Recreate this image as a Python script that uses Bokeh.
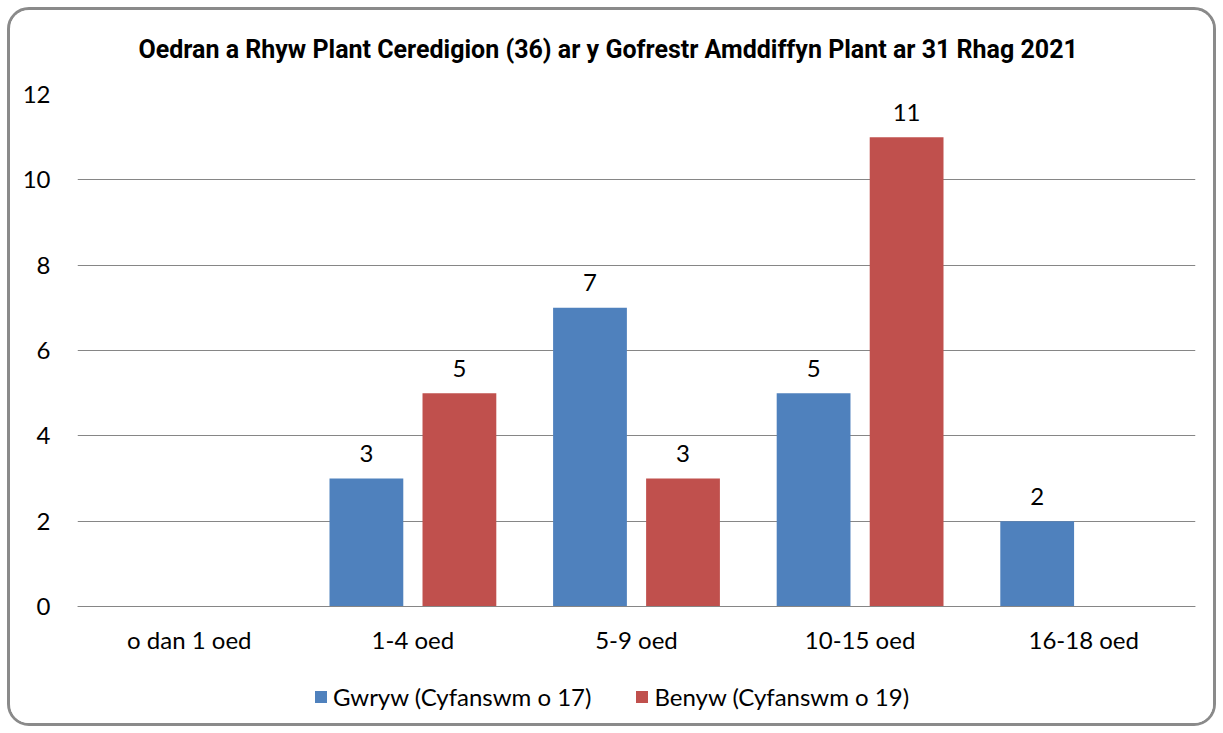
from bokeh.plotting import figure
from bokeh.models import FactorRange, Range1d, ColumnDataSource, Legend, LegendItem, FixedTicker, Title
from bokeh.transform import dodge
from bokeh.embed import file_html
from bokeh.resources import INLINE
from bokeh.core.properties import value

categories = ["o dan 1 oed", "1-4 oed", "5-9 oed", "10-15 oed", "16-18 oed"]
gwryw = [0, 3, 7, 5, 2]
benyw = [0, 5, 3, 11, 0]
series_names = ["Gwryw (Cyfanswm o 17)", "Benyw (Cyfanswm o 19)"]
y_ticks = [0, 2, 4, 6, 8, 10, 12]
title_text = "Oedran a Rhyw Plant Ceredigion (36) ar y Gofrestr Amddiffyn Plant ar 31 Rhag 2021"

BLUE = "#4F81BD"
RED = "#C0504D"
GRID = "#868686"
FONT = "Lato"
FS = "24px"

src = ColumnDataSource(dict(
    cat=categories, g=gwryw, b=benyw,
    gl=[str(v) if v > 0 else "" for v in gwryw],
    bl=[str(v) if v > 0 else "" for v in benyw],
))

# frame reaches down to the legend; value axis shows 0..12 only
p = figure(
    x_range=FactorRange(*categories),
    y_range=Range1d(-2.672, 12),
    frame_width=1118, frame_height=626,
    min_border_left=67, min_border_right=18, min_border_top=84, min_border_bottom=3,
    output_backend="svg", toolbar_location=None,
    background_fill_color="white", border_fill_color="white",
    outline_line_color=None,
    styles={"border": "3px solid #8a8a8a", "border-radius": "22px",
            "margin": "7px", "overflow": "hidden"},
)

p.add_layout(Title(text=" ", text_font_size="1px", standoff=5), "above")
p.add_layout(Title(text=title_text, text_font="Roboto", text_font_size="25px",
                   text_font_style="bold", align="left", text_color="black",
                   offset=61, standoff=45), "above")

r1 = p.vbar(x=dodge("cat", -0.208, range=p.x_range), top="g", width=0.33, source=src,
            fill_color=BLUE, line_color=None)
r2 = p.vbar(x=dodge("cat", 0.208, range=p.x_range), top="b", width=0.33, source=src,
            fill_color=RED, line_color=None)

p.text(x=dodge("cat", -0.208, range=p.x_range), y="g", text="gl", source=src,
       text_align="center", text_baseline="middle", y_offset=-25,
       text_font=value(FONT), text_font_size=FS, text_color="black")
p.text(x=dodge("cat", 0.208, range=p.x_range), y="b", text="bl", source=src,
       text_align="center", text_baseline="middle", y_offset=-25,
       text_font=value(FONT), text_font_size=FS, text_color="black")

p.xgrid.grid_line_color = None
p.ygrid.grid_line_color = GRID
p.ygrid.ticker = FixedTicker(ticks=y_ticks)

p.yaxis.ticker = FixedTicker(ticks=y_ticks)
p.yaxis.axis_line_color = None
p.yaxis.major_tick_line_color = None
p.yaxis.minor_tick_line_color = None
p.yaxis.major_label_standoff = 21
p.yaxis.major_label_text_font = FONT
p.yaxis.major_label_text_font_size = FS
p.yaxis.major_label_text_color = "black"

p.xaxis.fixed_location = 0
p.xaxis.axis_line_color = GRID
p.xaxis.major_tick_line_color = None
p.xaxis.minor_tick_line_color = None
p.xaxis.major_label_standoff = 13
p.xaxis.major_label_text_font = FONT
p.xaxis.major_label_text_font_size = FS
p.xaxis.major_label_text_color = "black"

legend = Legend(items=[LegendItem(label=series_names[0], renderers=[r1]),
                       LegendItem(label=series_names[1], renderers=[r2])],
                orientation="horizontal", location=(236, 9),
                padding=0, margin=0, spacing=43, label_standoff=5,
                glyph_width=15, glyph_height=15,
                label_text_font=FONT, label_text_font_size=FS, label_text_color="black",
                border_line_color=None, background_fill_alpha=0)
p.add_layout(legend, "center")

open("out.html", "w").write(file_html(p, INLINE))
